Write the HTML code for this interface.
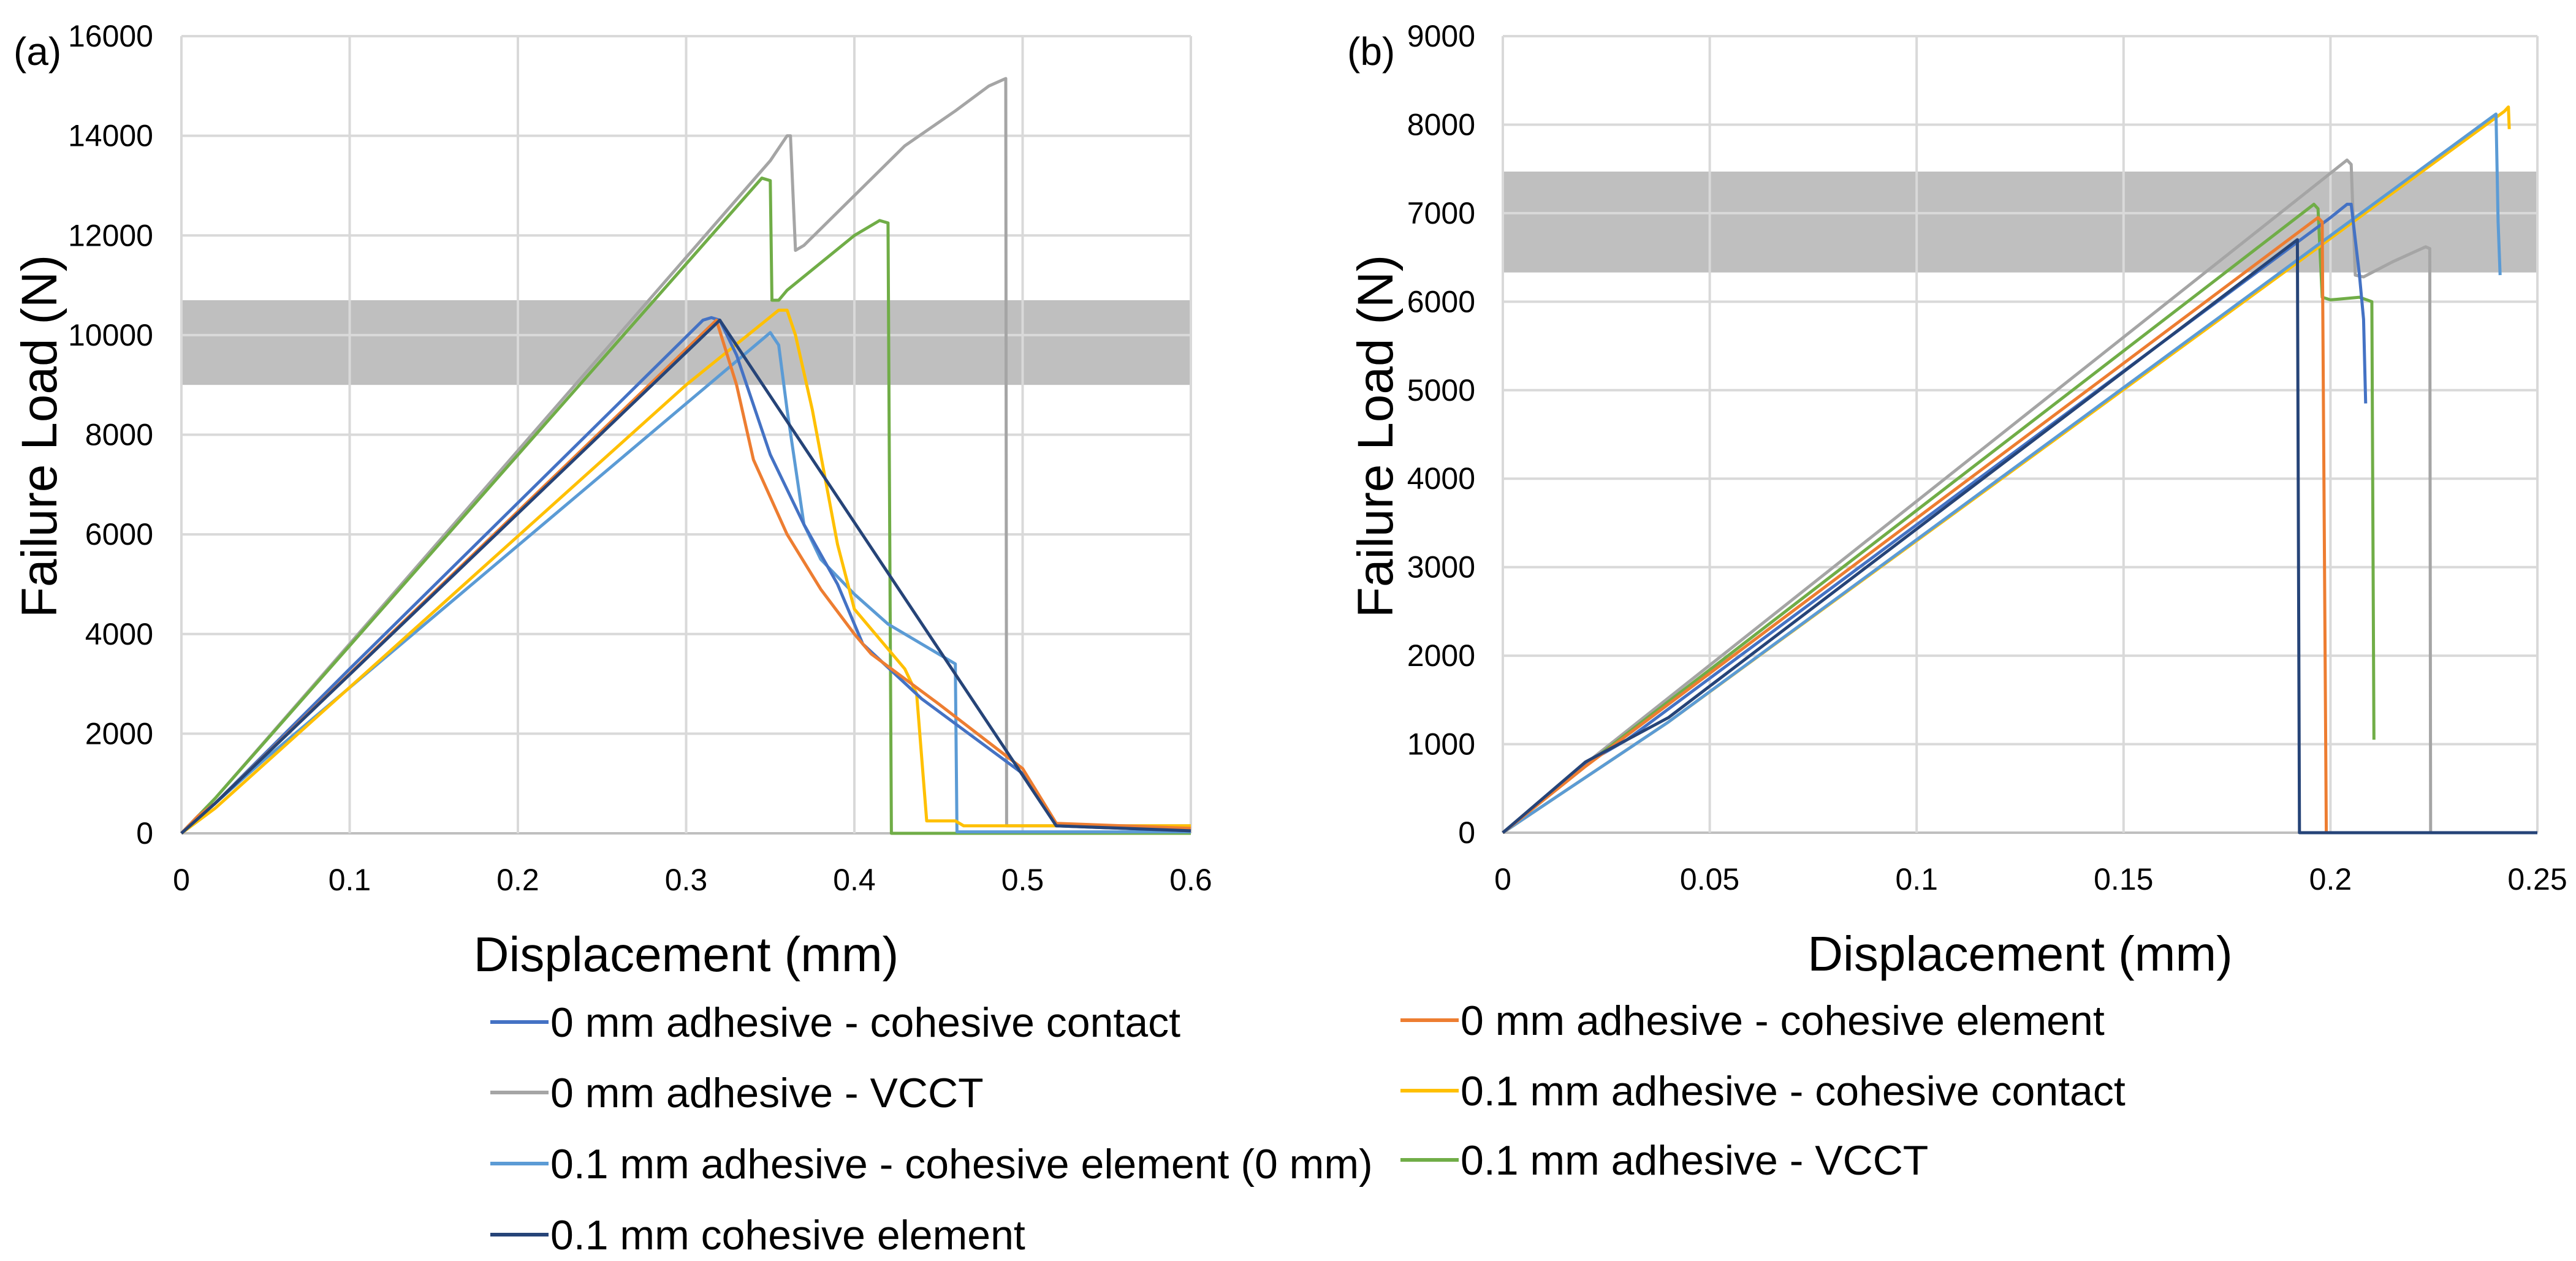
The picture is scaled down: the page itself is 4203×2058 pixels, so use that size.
<!DOCTYPE html>
<html><head><meta charset="utf-8"><style>
html,body{margin:0;padding:0;background:#fff;}
svg{display:block;font-family:"Liberation Sans",sans-serif;}
</style></head><body>
<svg id="fig" width="4203" height="2058" viewBox="0 0 4203 2058"></svg>
<script>
// ---- Chart (a) data ----
const aXTicks = [0,0.1,0.2,0.3,0.4,0.5,0.6];
const aYTicks = [0,2000,4000,6000,8000,10000,12000,14000,16000];
const aBand = [9000,10700];
const aContact0X = [0,0.01,0.02,0.1,0.31,0.315,0.32,0.33,0.35,0.37,0.39,0.405,0.44,0.5,0.52,0.6];
const aContact0Y = [0,350,600,3300,10300,10350,10300,9600,7600,6200,5000,3800,2700,1200,150,50];
const aElem0X = [0,0.01,0.02,0.318,0.33,0.34,0.36,0.38,0.4,0.41,0.45,0.5,0.52,0.6];
const aElem0Y = [0,350,600,10300,9000,7500,6000,4900,4000,3600,2600,1300,200,100];
const aVcct0X = [0,0.02,0.35,0.36,0.362,0.365,0.37,0.4,0.43,0.46,0.48,0.49,0.4905,0.6];
const aVcct0Y = [0,700,13500,14000,14000,11700,11800,12800,13800,14500,15000,15150,150,150];
const aContact1X = [0,0.02,0.3,0.355,0.36,0.365,0.375,0.39,0.4,0.43,0.437,0.443,0.46,0.465,0.6];
const aContact1Y = [0,500,9000,10500,10500,10000,8500,5800,4500,3300,2800,250,250,150,150];
const aElemZeroX = [0,0.05,0.35,0.355,0.36,0.37,0.38,0.4,0.42,0.44,0.46,0.461,0.6];
const aElemZeroY = [0,1500,10050,9800,8500,6200,5500,4800,4200,3800,3400,30,30];
const aVcct1X = [0,0.02,0.345,0.35,0.351,0.355,0.36,0.4,0.415,0.42,0.422,0.6];
const aVcct1Y = [0,700,13150,13100,10700,10700,10900,12000,12300,12250,0,0];
const aElem1X = [0,0.02,0.32,0.52,0.6];
const aElem1Y = [0,600,10300,150,50];
// ---- Chart (b) data ----
const bXTicks = [0,0.05,0.1,0.15,0.2,0.25];
const bXTickLabels = ["0","0.05","0.1","0.15","0.2","0.25"];
const bYTicks = [0,1000,2000,3000,4000,5000,6000,7000,8000,9000];
const bBand = [6330,7470];
const bContact0X = [0,0.02,0.03,0.2,0.204,0.205,0.206,0.207,0.208,0.2085];
const bContact0Y = [0,780,1050,6950,7100,7100,6700,6300,5800,4850];
const bElem0X = [0,0.02,0.197,0.198,0.199];
const bElem0Y = [0,750,6950,6900,0];
const bVcct0X = [0,0.02,0.204,0.205,0.206,0.208,0.215,0.223,0.224,0.2242,0.25];
const bVcct0Y = [0,780,7600,7550,6300,6280,6450,6620,6600,0,0];
const bContact1X = [0,0.04,0.242,0.243,0.2432];
const bContact1Y = [0,1250,8150,8200,7950];
const bElemZeroX = [0,0.04,0.24,0.2405,0.241];
const bElemZeroY = [0,1250,8120,6900,6300];
const bVcct1X = [0,0.02,0.196,0.197,0.198,0.2,0.207,0.21,0.2105];
const bVcct1Y = [0,760,7100,7050,6050,6020,6050,6000,1050];
const bElem1X = [0,0.02,0.03,0.04,0.192,0.1925,0.25];
const bElem1Y = [0,800,1050,1300,6700,0,0];

const NS="http://www.w3.org/2000/svg";
const svg=document.getElementById('fig');
function mk(tag,attrs,parent){const e=document.createElementNS(NS,tag);for(const k in attrs)e.setAttribute(k,attrs[k]);(parent||svg).appendChild(e);return e;}

function chart(cfg){
  const g=mk('g',{});
  
  
  const sx=v=>cfg.x0+(v-cfg.xmin)/(cfg.xmax-cfg.xmin)*(cfg.x1-cfg.x0);
  const sy=v=>cfg.y0-(v-cfg.ymin)/(cfg.ymax-cfg.ymin)*(cfg.y0-cfg.y1);
  const band=mk('rect',{x:cfg.x0,y:sy(cfg.band[1]),width:cfg.x1-cfg.x0,height:sy(cfg.band[0])-sy(cfg.band[1]),fill:'#bfbfbf'},g);
  
  
  cfg.yTicks.forEach(t=>{
    const l=mk('line',{x1:cfg.x0,x2:cfg.x1,y1:sy(t),y2:sy(t),stroke:t===0?'#bfbfbf':'#d9d9d9','stroke-width':4},g);
    
    
    const tx=mk('text',{x:cfg.ylabX,y:sy(t)+17,'text-anchor':'end','font-size':50,fill:'#000'},g);
    tx.textContent=t;
    
    
  });
  cfg.xTicks.forEach((t,i)=>{
    const l=mk('line',{x1:sx(t),x2:sx(t),y1:cfg.y1,y2:cfg.y0,stroke:'#d9d9d9','stroke-width':4},g);
    
    
    const tx=mk('text',{x:sx(t),y:cfg.y0+93,'text-anchor':'middle','font-size':50,fill:'#000'},g);
    tx.textContent=cfg.xLabels?cfg.xLabels[i]:String(t);
    
    
  });
  cfg.series.forEach(s=>{
    const d=s.x.map((v,i)=>(i?'L':'M')+sx(v).toFixed(1)+' '+sy(s.y[i]).toFixed(1)).join(' ');
    const p=mk('path',{d:d,fill:'none',stroke:s.c,'stroke-width':5,'stroke-linejoin':'round'},g);
    
    
  });
  const xt=mk('text',{x:(cfg.x0+cfg.x1)/2,y:cfg.y0+225,'text-anchor':'middle','font-size':80,fill:'#000'},g);
  xt.textContent='Displacement (mm)';
  
  
  const yt=mk('text',{x:0,y:0,'text-anchor':'middle','font-size':82,fill:'#000',transform:`translate(${cfg.ytitleX},712) rotate(-90)`},g);
  yt.textContent='Failure Load (N)';
  
  
  const pl=mk('text',{x:cfg.panelX,y:106,'font-size':64,fill:'#000'},g);
  pl.textContent=cfg.panel;
  
  
}
const C={c0:'#4472C4',e0:'#ED7D31',v0:'#A5A5A5',c1:'#FFC000',ez:'#5B9BD5',v1:'#70AD47',e1:'#264478'};
chart({name:'chart-a',panel:'(a)',panelX:22,x0:296,x1:1943,y0:1360,y1:59,xmin:0,xmax:0.6,ymin:0,ymax:16000,
  xTicks:aXTicks,yTicks:aYTicks,band:aBand,ylabX:250,ytitleX:92,
  series:[{n:'a-0mm-vcct',x:aVcct0X,y:aVcct0Y,c:C.v0},{n:'a-0.1mm-vcct',x:aVcct1X,y:aVcct1Y,c:C.v1},
  {n:'a-0.1mm-element-0mm',x:aElemZeroX,y:aElemZeroY,c:C.ez},{n:'a-0.1mm-contact',x:aContact1X,y:aContact1Y,c:C.c1},
  {n:'a-0mm-contact',x:aContact0X,y:aContact0Y,c:C.c0},{n:'a-0mm-element',x:aElem0X,y:aElem0Y,c:C.e0},
  {n:'a-0.1mm-element',x:aElem1X,y:aElem1Y,c:C.e1}]});
chart({name:'chart-b',panel:'(b)',panelX:2198,x0:2452,x1:4140,y0:1359,y1:59,xmin:0,xmax:0.25,ymin:0,ymax:9000,
  xTicks:bXTicks,xLabels:bXTickLabels,yTicks:bYTicks,band:bBand,ylabX:2407,ytitleX:2272,
  series:[{n:'b-0mm-vcct',x:bVcct0X,y:bVcct0Y,c:C.v0},{n:'b-0.1mm-vcct',x:bVcct1X,y:bVcct1Y,c:C.v1},
  {n:'b-0.1mm-contact',x:bContact1X,y:bContact1Y,c:C.c1},{n:'b-0.1mm-element-0mm',x:bElemZeroX,y:bElemZeroY,c:C.ez},
  {n:'b-0mm-contact',x:bContact0X,y:bContact0Y,c:C.c0},{n:'b-0mm-element',x:bElem0X,y:bElem0Y,c:C.e0},
  {n:'b-0.1mm-element',x:bElem1X,y:bElem1Y,c:C.e1}]});
// legend
const legend=[
 ['0 mm adhesive - cohesive contact',C.c0,800,1668],
 ['0 mm adhesive - VCCT',C.v0,800,1783],
 ['0.1 mm adhesive - cohesive element (0 mm)',C.ez,800,1899],
 ['0.1 mm cohesive element',C.e1,800,2015],
 ['0 mm adhesive - cohesive element',C.e0,2285,1665],
 ['0.1 mm adhesive - cohesive contact',C.c1,2285,1780],
 ['0.1 mm adhesive - VCCT',C.v1,2285,1893]];
const lg=mk('g',{});


legend.forEach(e=>{
  const g=mk('g',{},lg);
  
  
  mk('line',{x1:e[2],x2:e[2]+95,y1:e[3],y2:e[3],stroke:e[1],'stroke-width':6},g);
  const t=mk('text',{x:e[2]+98,y:e[3]+24,'font-size':68,fill:'#000'},g);
  t.textContent=e[0];
});
</script>
</body></html>
